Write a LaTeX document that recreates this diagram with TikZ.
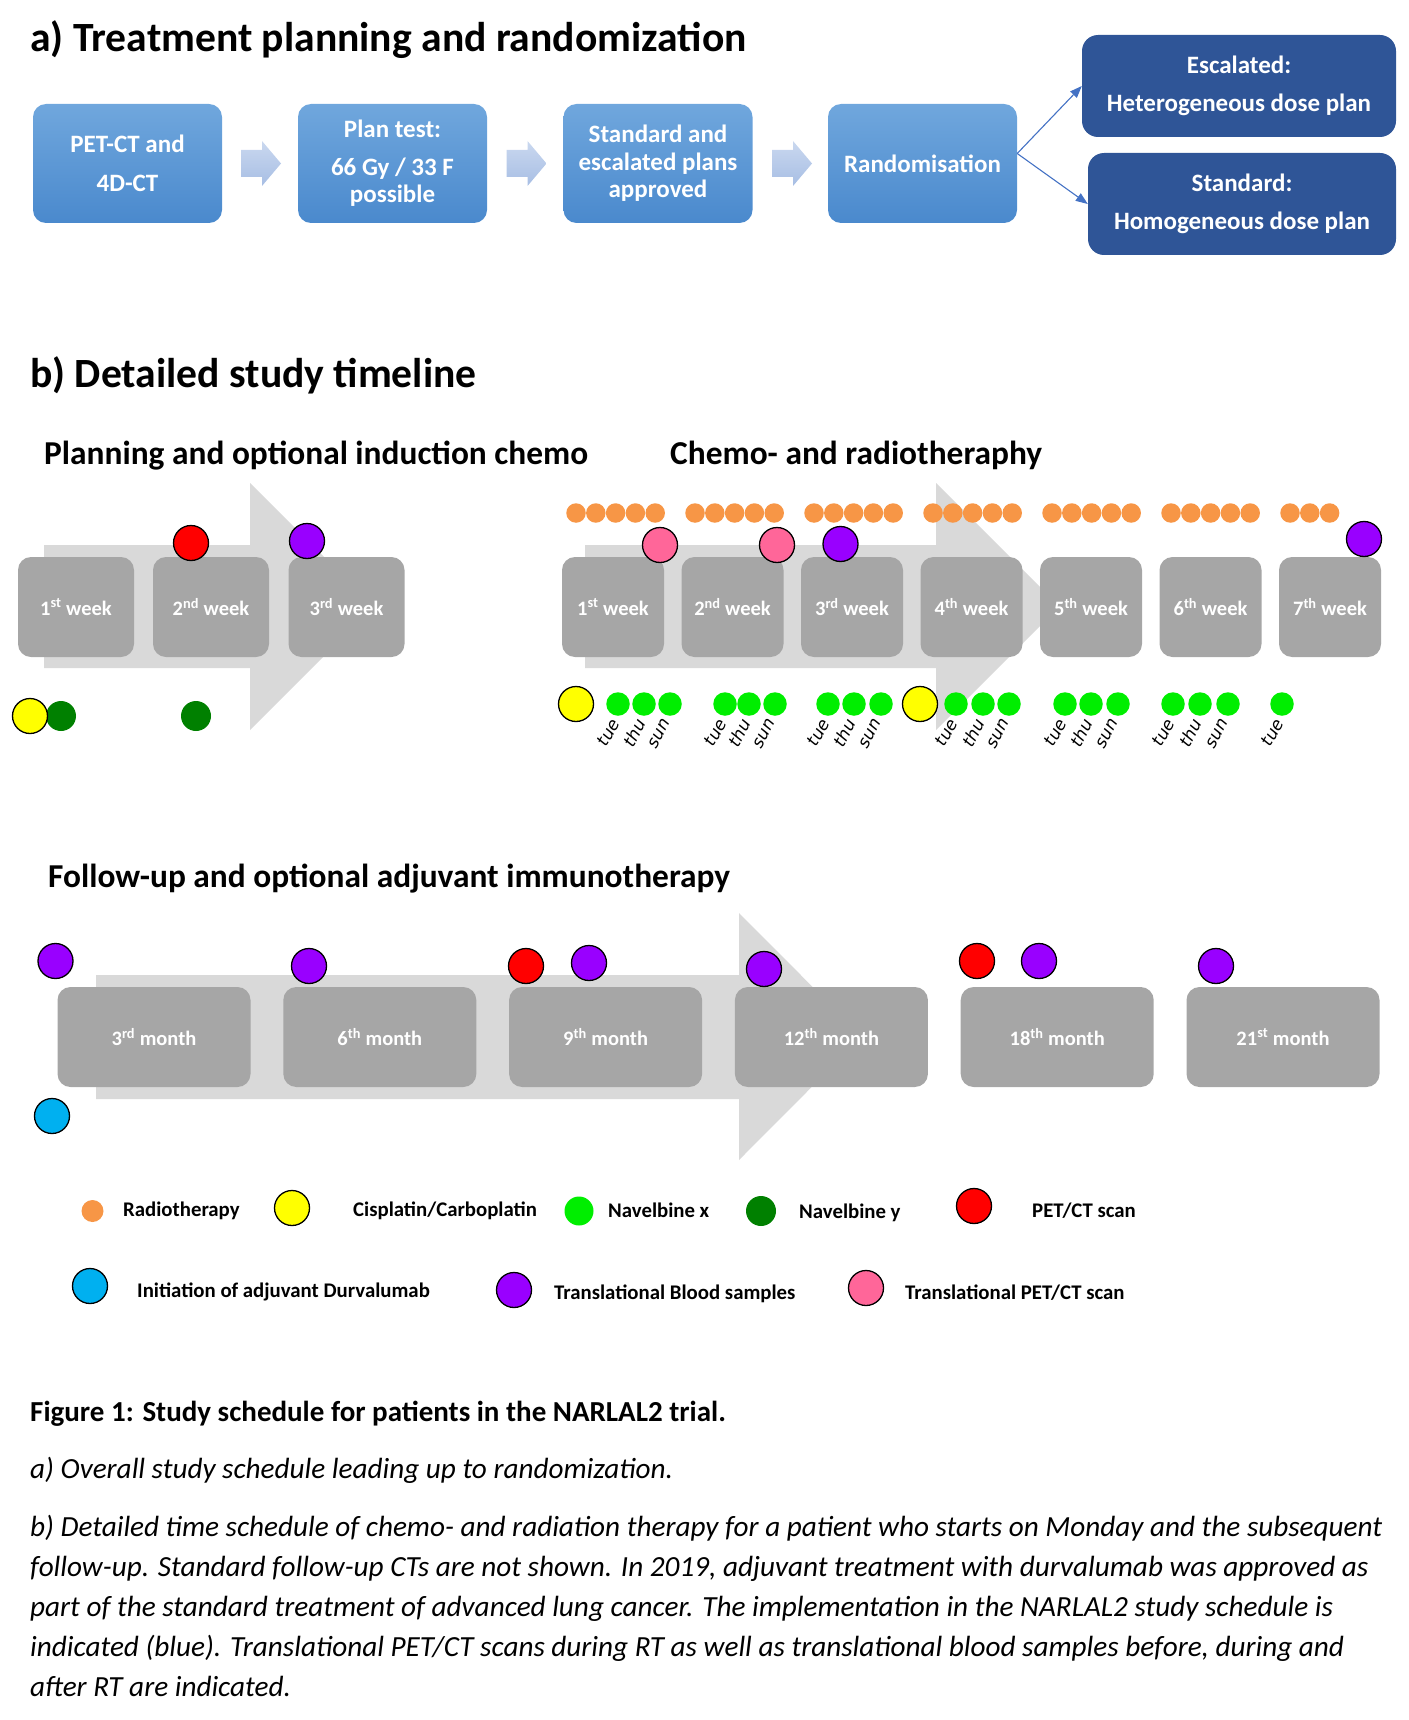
\documentclass[tikz,border=0pt]{standalone}
\usepackage{fontspec}
\setmainfont{Carlito}
\newfontfamily\dayfont{DejaVu Sans}
\usetikzlibrary{arrows.meta}
\definecolor{bluetop}{HTML}{70A7DD}
\definecolor{bluebot}{HTML}{4A89CD}
\definecolor{darkblue}{HTML}{2F5597}
\definecolor{linkblue}{HTML}{4472C4}
\definecolor{smtop}{HTML}{CAD8EF}
\definecolor{smbot}{HTML}{A7BEE4}
\definecolor{arrgray}{HTML}{D9D9D9}
\definecolor{boxgray}{HTML}{A6A6A6}
\definecolor{corange}{HTML}{F79646}
\definecolor{cyellow}{HTML}{FFFF00}
\definecolor{cgreen}{HTML}{00EE00}
\definecolor{cdkgreen}{HTML}{008000}
\definecolor{cred}{HTML}{FF0000}
\definecolor{cpurple}{HTML}{9900FF}
\definecolor{cpink}{HTML}{FF6699}
\definecolor{ccyan}{HTML}{00B0F0}
\begin{document}
\begin{tikzpicture}[x=1pt,y=-1pt,
  bluebox/.style={rectangle, rounded corners=13pt, top color=bluetop, bottom color=bluebot, draw=none,
    minimum width=189pt, minimum height=119pt, inner sep=0pt, text=white, align=center,
    font=\bfseries\fontsize{25}{39}\selectfont},
  darkbox/.style={rectangle, rounded corners=16pt, fill=darkblue, minimum height=102pt, inner sep=0pt,
    text=white, align=center, font=\bfseries\fontsize{25}{38}\selectfont},
  weekbox/.style={rectangle, rounded corners=13pt, fill=boxgray, minimum height=100pt, inner sep=0pt,
    text=white, font=\bfseries\fontsize{20.5}{24}\selectfont},
  bigdot/.style={circle, draw=black, line width=1.3pt, minimum size=35pt, inner sep=0pt},
  odot/.style={circle, fill=corange, minimum size=19.5pt, inner sep=0pt},
  gdot/.style={circle, fill=cgreen, minimum size=23.5pt, inner sep=0pt},
  dgdot/.style={circle, fill=cdkgreen, minimum size=30pt, inner sep=0pt},
  daylbl/.style={rotate=62, anchor=east, inner sep=0pt, font=\dayfont\itshape\fontsize{17}{19}\selectfont},
  ltxt/.style={anchor=west, inner sep=0pt, font=\bfseries\fontsize{20.8}{24}\selectfont},
  ttl/.style={anchor=base west, inner sep=0pt, font=\bfseries\fontsize{41.6}{48}\selectfont},
  subttl/.style={anchor=base west, inner sep=0pt, font=\bfseries\fontsize{33.4}{40}\selectfont},
  captxt/.style={anchor=base west, inner sep=0pt, font=\itshape\fontsize{29.2}{34}\selectfont},
  link/.style={draw=linkblue, line width=1.1pt, -{Triangle[length=12pt,width=9pt]}}
]
\useasboundingbox (0,0) rectangle (1408,1720);

% ---------------- a) ----------------
\node[ttl] (ta) at (30,52) {a) Treatment planning and randomization};

\node[bluebox] (A1) at (127.5,163.5) {PET-CT and\\4D-CT};
\node[bluebox, font=\bfseries\fontsize{25}{27}\selectfont] (A2) at (392.5,163.5) {Plan test:\\[11pt]66 Gy / 33 F\\possible};
\node[bluebox, font=\bfseries\fontsize{25}{27.5}\selectfont] (A3) at (658,163.5) {Standard and\\escalated plans\\approved};
\node[bluebox] (A4) at (922.5,163.5) {Randomisation};
\node[darkbox, minimum width=314pt] (A5) at (1239,86) {Escalated:\\Heterogeneous dose plan};
\node[darkbox, minimum width=308pt] (A6) at (1242,204) {Standard:\\Homogeneous dose plan};

\foreach \s in {0,265.5,531}{
  \shade[top color=smtop, bottom color=smbot, xshift=\s]
    (241,150) -- (262,150) -- (262,141) -- (281,163.5) -- (262,186) -- (262,177) -- (241,177) -- cycle;
}
\draw[link] ([yshift=10pt]A4.east) -- (A5.west);
\draw[link] ([yshift=10pt]A4.east) -- (A6.west);

% ---------------- b) ----------------
\node[ttl] (tb) at (30,387) {b) Detailed study timeline};
\node[subttl] (t1) at (44,464) {Planning and optional induction chemo};
\node[subttl] (t2) at (670,464) {Chemo- and radiotheraphy};

% big gray arrows
\fill[arrgray] (44,545) -- (250,545) -- (250,483) -- (373.5,606.5) -- (250,730) -- (250,668) -- (44,668) -- cycle;
\fill[arrgray] (585,545) -- (936,545) -- (936,483) -- (1059.5,606.5) -- (936,730) -- (936,668) -- (585,668) -- cycle;

% left weeks
\node[weekbox, minimum width=116pt] (w1) at (76,607) {1\textsuperscript{st} week};
\node[weekbox, minimum width=116pt] (w2) at (211,607) {2\textsuperscript{nd} week};
\node[weekbox, minimum width=116pt] (w3) at (346.5,607) {3\textsuperscript{rd} week};
\node[bigdot, fill=cred] (p1) at (191,543) {};
\node[bigdot, fill=cpurple] (p2) at (307,541) {};
\node[dgdot] (n1) at (61,716) {};
\node[dgdot] (n2) at (196,716) {};
\node[bigdot, fill=cyellow] (c1) at (30,716) {};

% right weeks
\foreach \k/\lab in {0/1\textsuperscript{st},1/2\textsuperscript{nd},2/3\textsuperscript{rd},3/4\textsuperscript{th},4/5\textsuperscript{th},5/6\textsuperscript{th},6/7\textsuperscript{th}}{
  \node[weekbox, minimum width=102pt] (r\k) at ({613+119.5*\k},607) {\lab{} week};
}
\foreach \k in {0,...,5}{
  \foreach \j in {0,...,4}{
    \node[odot] (o\k\j) at ({576+119*\k+19.8*\j},513) {};
  }
}
\foreach \j in {0,1,2}{
  \node[odot] (o6\j) at ({1290+19.8*\j},513) {};
}
\node[bigdot, fill=cpink] (q1) at (660,545) {};
\node[bigdot, fill=cpink] (q2) at (777,545) {};
\node[bigdot, fill=cpurple] (q3) at (840.5,544) {};
\node[bigdot, fill=cpurple] (q4) at (1364,539) {};

\node[bigdot, fill=cyellow] (y1) at (576,704) {};
\node[bigdot, fill=cyellow] (y2) at (920,704) {};
\foreach \x/\d [count=\i] in {618/tue,644/thu,670/sun,725/tue,749/thu,775/sun,828/tue,854/thu,881/sun,956/tue,983/thu,1009/sun,1065/tue,1091/thu,1118/sun,1173/tue,1200/thu,1228/sun,1282/tue}{
  \node[gdot] (g\i) at (\x,704) {};
  \node[daylbl] (d\i) at ([xshift=-3pt,yshift=-16pt]g\i.center) {\d};
}

% follow-up
\node[subttl] (t3) at (48,887) {Follow-up and optional adjuvant immunotherapy};
\fill[arrgray] (96,975) -- (739,975) -- (739,913) -- (862,1036.5) -- (739,1160) -- (739,1099) -- (96,1099) -- cycle;
\foreach \k/\lab in {0/3\textsuperscript{rd},1/6\textsuperscript{th},2/9\textsuperscript{th},3/12\textsuperscript{th},4/18\textsuperscript{th},5/21\textsuperscript{st}}{
  \node[weekbox, minimum width=193pt] (m\k) at ({154+225.8*\k},1037) {\lab{} month};
}
\node[bigdot, fill=cpurple] (f1) at (55.5,961) {};
\node[bigdot, fill=ccyan] (f2) at (52,1116) {};
\node[bigdot, fill=cpurple] (f3) at (309,966) {};
\node[bigdot, fill=cred] (f4) at (526,966) {};
\node[bigdot, fill=cpurple] (f5) at (589,963) {};
\node[bigdot, fill=cpurple] (f6) at (764,969) {};
\node[bigdot, fill=cred] (f7) at (977,961) {};
\node[bigdot, fill=cpurple] (f8) at (1039,961) {};
\node[bigdot, fill=cpurple] (f9) at (1216,966) {};

% legend
\node[odot, minimum size=22pt] (L1) at (92.5,1211) {};
\node[ltxt] (L1t) at (123,1211) {Radiotherapy};
\node[bigdot, fill=cyellow] (L2) at (292,1208) {};
\node[ltxt] (L2t) at (353,1211) {Cisplatin/Carboplatin};
\node[gdot, minimum size=29pt] (L3) at (579,1211) {};
\node[ltxt] (L3t) at (608,1210) {Navelbine x};
\node[dgdot] (L4) at (761,1211) {};
\node[ltxt] (L4t) at (799,1213) {Navelbine y};
\node[bigdot, fill=cred] (L5) at (974,1206) {};
\node[ltxt] (L5t) at (1032,1211) {PET/CT scan};
\node[bigdot, fill=ccyan] (L6) at (90,1286) {};
\node[ltxt] (L6t) at (137,1292) {Initiation of adjuvant Durvalumab};
\node[bigdot, fill=cpurple] (L7) at (514,1290) {};
\node[ltxt] (L7t) at (554,1294) {Translational Blood samples};
\node[bigdot, fill=cpink] (L8) at (866,1288) {};
\node[ltxt] (L8t) at (905,1293) {Translational PET/CT scan};

% caption
\node[captxt, font=\bfseries\fontsize{29}{34}\selectfont] (k1) at (30,1421) {Figure 1: Study schedule for patients in the NARLAL2 trial.};
\node[captxt] (k2) at (30,1478) {a) Overall study schedule leading up to randomization.};
\node[captxt] (k3) at (30,1536) {b) Detailed time schedule of chemo- and radiation therapy for a patient who starts on Monday and the subsequent};
\node[captxt] (k4) at (30,1576) {follow-up. Standard follow-up CTs are not shown. In 2019, adjuvant treatment with durvalumab was approved as};
\node[captxt] (k5) at (30,1616) {part of the standard treatment of advanced lung cancer. The implementation in the NARLAL2 study schedule is};
\node[captxt] (k6) at (30,1656) {indicated (blue). Translational PET/CT scans during RT as well as translational blood samples before, during and};
\node[captxt] (k7) at (30,1696) {after RT are indicated.};
\end{tikzpicture}
\end{document}
